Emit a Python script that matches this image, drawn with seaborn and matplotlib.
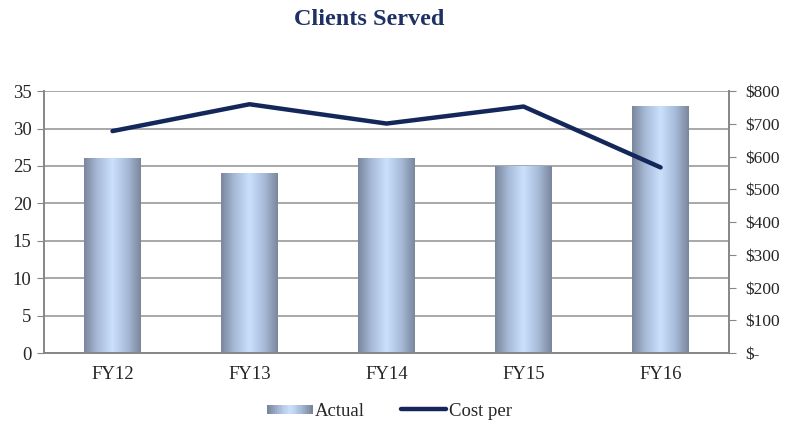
import numpy as np
import pandas as pd
import matplotlib
matplotlib.use("Agg")
import matplotlib.pyplot as plt
from matplotlib.colors import LinearSegmentedColormap
from matplotlib.legend_handler import HandlerBase
from matplotlib.lines import Line2D
from matplotlib.patches import Rectangle
import seaborn as sns

years = ["FY12", "FY13", "FY14", "FY15", "FY16"]
actual = [26, 24, 26, 25, 33]
cost_per = [678, 760, 701, 753, 567]

NAVY = "#13275a"
GRID = "#a8a8a8"
SPINE = "#868686"
bar_cmap = LinearSegmentedColormap.from_list(
    "barfill", ["#7a869c", "#a9bddb", "#cae0fb", "#a9bddb", "#7a869c"])

sns.set_style("white")
plt.rcParams["font.family"] = ["Liberation Serif", "DejaVu Serif"]

df = pd.DataFrame({"year": years, "actual": actual})

fig = plt.figure(figsize=(7.87, 4.22), dpi=100)
ax = fig.add_axes([0.0559, 0.1635, 0.8705, 0.6205])

sns.barplot(data=df, x="year", y="actual", ax=ax, width=0.41,
            color="#c6dcf8", saturation=1, zorder=2)

# horizontal gradient on every bar
grad = np.linspace(0, 1, 256).reshape(1, -1)
for p in ax.patches:
    x0, y0 = p.get_x(), p.get_y()
    w, h = p.get_width(), p.get_height()
    im = ax.imshow(grad, cmap=bar_cmap, aspect="auto",
                   extent=[x0, x0 + w, y0, y0 + h], zorder=2)
    im.set_clip_path(p)
    p.set_facecolor("none")
    p.set_edgecolor("none")

ax.set_xlim(-0.5, 4.5)
ax.set_ylim(0, 35)
ax.set_yticks(range(0, 36, 5))
ax.yaxis.grid(True, color=GRID, lw=1.4)
ax.set_axisbelow(True)
ax.set_xlabel("")
ax.set_ylabel("")
ax.set_xticks(np.arange(-0.5, 5, 1), minor=True)
ax.tick_params(axis="x", which="major", length=0, labelsize=13.5, pad=9)
ax.tick_params(axis="x", which="minor", length=5, color=SPINE, direction="out")
ax.tick_params(axis="y", length=5, color=SPINE, direction="out", labelsize=13.5,
               left=True, pad=4)
for s in ["left", "bottom"]:
    ax.spines[s].set_color(SPINE)
    ax.spines[s].set_linewidth(1.4)
for s in ["top", "right"]:
    ax.spines[s].set_visible(False)

ax2 = ax.twinx()
sns.lineplot(x=np.arange(len(years)), y=cost_per, ax=ax2, color=NAVY,
             lw=3.2, solid_capstyle="round")
ax2.set_ylim(0, 800)
ax2.set_yticks(range(0, 801, 100))
ax2.set_yticklabels(["$-"] + [f"${v}" for v in range(100, 801, 100)])
ax2.set_xlim(-0.5, 4.5)
ax2.tick_params(axis="y", length=5, color=SPINE, direction="out",
                labelsize=12.5, right=True, pad=7)
for s in ["left", "top", "bottom"]:
    ax2.spines[s].set_visible(False)
ax2.spines["right"].set_color(SPINE)
ax2.spines["right"].set_linewidth(1.4)

fig.text(0.469, 0.953, "Clients Served", ha="center", va="center",
         fontsize=17.5, fontweight="bold", color="#1f3164")


class GradientHandler(HandlerBase):
    def create_artists(self, legend, orig_handle, xdescent, ydescent,
                       width, height, fontsize, trans):
        n = 24
        out = []
        for i in range(n):
            c = bar_cmap(i / (n - 1))
            r = Rectangle((-xdescent + i * width / n, -ydescent + height * 0.15),
                          width / n + 0.3, height * 0.7, facecolor=c,
                          edgecolor="none", transform=trans)
            out.append(r)
        return out


bar_handle = Rectangle((0, 0), 1, 1)
line_handle = Line2D([0], [0], color=NAVY, lw=3.2, solid_capstyle="round")
fig.legend([bar_handle, line_handle], ["Actual", "Cost per"],
           handler_map={Rectangle: GradientHandler()},
           loc="center", bbox_to_anchor=(0.495, 0.025), ncol=2, frameon=False,
           fontsize=13.5, handlelength=2.4, handletextpad=0.15, columnspacing=1.9)

fig.savefig("out.png", dpi=100)
